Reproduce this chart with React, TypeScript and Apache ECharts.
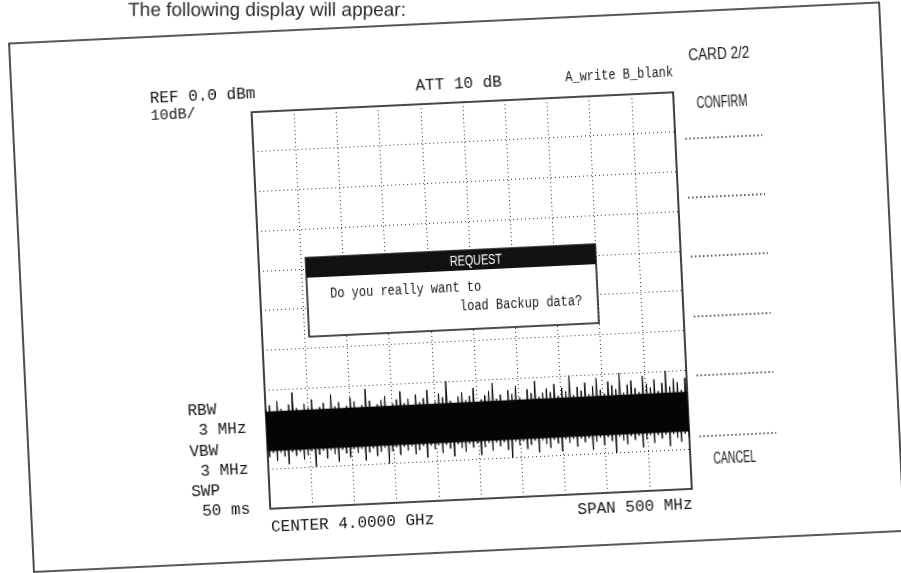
import React, { useEffect, useRef } from "react";
import * as echarts from "echarts";

// ---------- data ----------
const FREQ_START = 3750; // MHz (center 4000, span 500)
const FREQ_END = 4250;
const FREQ_STEP = 50;
const LEVEL_MIN = -100; // dBm
const LEVEL_MAX = 0;
const LEVEL_STEP = 10;

// noise trace: alternating peak / trough readings across the span (dBm)
const peakLevels = [
  -75, -74, -76, -73, -75, -76, -74, -71, -75, -76, -74, -75, -73, -76, -75, -74, -76, -72, -75, -74,
  -76, -75, -73, -74, -76, -75, -71, -74, -76, -75, -74, -73, -76, -75, -74, -72, -75,
  -74, -76, -73, -75, -74, -72, -76, -75, -73, -74, -70, -75, -76, -74, -73, -75, -74, -72, -76,
  -75, -74, -73, -71, -75, -74, -76, -73, -74, -72, -75, -76, -73, -74, -71, -75, -74, -73,
  -74, -72, -75, -73, -74, -70, -75, -73, -74, -72, -75, -73, -71, -74, -75, -72, -73, -74, -70,
  -75, -73, -72, -74, -75, -71, -73, -74, -72, -75, -73, -70, -74, -72, -73, -75, -72,
];
const troughLevels = [
  -87, -86, -88, -86, -87, -89, -86, -87, -86, -88, -87, -86, -90, -87, -86, -88, -86, -87, -89, -86,
  -87, -88, -86, -87, -86, -89, -87, -86, -88, -87, -86, -90, -87, -86, -88, -86, -87,
  -86, -88, -87, -86, -89, -86, -87, -86, -88, -86, -87, -89, -86, -87, -88, -86, -87, -86, -89,
  -87, -86, -88, -86, -87, -86, -88, -90, -86, -87, -86, -88, -87, -86, -89, -86, -87, -88,
  -86, -87, -89, -86, -87, -86, -88, -86, -87, -86, -89, -87, -86, -88, -86, -87, -90, -86, -87,
  -88, -86, -87, -86, -89, -87, -86, -88, -86, -87, -86, -89, -86, -87, -88, -86, -87,
];
const coreBand = [-85.5, -75.5]; // solid dense part of the noise

// ---------- texts ----------
const caption = "The following display will appear:";
const refText = "REF 0.0 dBm";
const scaleText = "10dB/";
const attText = "ATT 10 dB";
const traceModeText = "A_write B_blank";
const cardText = "CARD 2/2";
const softkeyTop = "CONFIRM";
const softkeyBottom = "CANCEL";
const settingLabels = ["RBW", "VBW", "SWP"];
const settingValues = ["3 MHz", "3 MHz", "50 ms"];
const centerText = "CENTER 4.0000 GHz";
const spanText = "SPAN 500 MHz";
const dialogTitle = "REQUEST";
const dialogLines = ["Do you really want to", "load Backup data?"];

// ---------- layout ----------
const P = 30;
const W = 901 + 2 * P;
const H = 573 + 2 * P;
const TILT_DEG = 2.7;
const MONO = "'Liberation Mono', 'DejaVu Sans Mono', monospace";
const SANS = "'Liberation Sans', Arial, sans-serif";
const INK = "#161616";

function txt(x: number, y: number, text: string, o: any = {}) {
  return {
    type: "text",
    x,
    y,
    rotation: o.rot ?? 0,
    scaleX: o.sx ?? 1,
    scaleY: o.sy ?? 1,
    z: o.z ?? 100,
    style: {
      text,
      fill: o.fill ?? INK,
      font: `${o.size ?? 16}px ${o.family ?? MONO}`,
      textAlign: o.align ?? "left",
      textVerticalAlign: o.valign ?? "middle",
    },
  };
}

export default function App() {
  const ref = useRef<HTMLDivElement>(null);

  useEffect(() => {
    document.body.style.margin = "0";
    document.body.style.background = "#ffffff";
    const chart = echarts.init(ref.current as HTMLDivElement, null, {
      renderer: "svg",
      width: W,
      height: H,
    });

    const n = peakLevels.length * 2;
    const span = FREQ_END - FREQ_START;
    const trace: number[][] = [];
    for (let k = 0; k < peakLevels.length; k++) {
      trace.push([FREQ_START + ((2 * k) * span) / (n - 1), peakLevels[k]]);
      trace.push([FREQ_START + ((2 * k + 1) * span) / (n - 1), troughLevels[k]]);
    }

    const softkeyYs = [180, 239, 298, 358, 417, 478];
    const settingYs = [429, 470, 510];

    const graphics: any[] = [
      // outer frame of the picture
      {
        type: "rect",
        z: 1,
        shape: { x: 51, y: 53, width: 871, height: 529 },
        style: { fill: "none", stroke: "#222", lineWidth: 1.6 },
      },
      // page caption (kept level with the page)
      txt(172, 15, caption, {
        family: SANS,
        size: 19,
        fill: "#2a2a2a",
        valign: "top",
        rot: (-TILT_DEG * Math.PI) / 180,
      }),
      txt(189, 115, refText),
      txt(189, 132, scaleText, { size: 15 }),
      txt(455, 115, attText),
      txt(605, 113, traceModeText, { size: 12, sy: 1.25 }),
      txt(729, 96, cardText, { family: SANS, size: 17, sx: 0.8 }),
      txt(735, 144, softkeyTop, { family: SANS, size: 17, sx: 0.64 }),
      txt(735, 500, softkeyBottom, { family: SANS, size: 17, sx: 0.62 }),
      ...softkeyYs.map((y) => ({
        type: "line",
        z: 100,
        shape: { x1: 722, y1: y, x2: 799, y2: y },
        style: { stroke: "#222", lineWidth: 1.5, lineDash: [1.5, 2.5] },
      })),
      ...settingLabels.map((t, i) => txt(212, settingYs[i], t)),
      ...settingValues.map((t, i) => txt(222, settingYs[i] + 20, t)),
      txt(290, 549, centerText),
      txt(712, 546, spanText, { align: "right" }),
      // dialog
      {
        type: "rect",
        z: 100,
        shape: { x: 337, y: 281, width: 290, height: 79 },
        style: { fill: "#ffffff", stroke: "#111", lineWidth: 1.5 },
      },
      {
        type: "rect",
        z: 101,
        shape: { x: 337, y: 281, width: 290, height: 20 },
        style: { fill: "#121212" },
      },
      txt(481, 291, dialogTitle, { family: SANS, size: 15, sx: 0.72, fill: "#ffffff", z: 102 }),
      txt(360, 318, dialogLines[0], { size: 12, sy: 1.25, z: 102 }),
      txt(489, 337, dialogLines[1], { size: 12, sy: 1.25, z: 102 }),
    ];

    const dotted = { color: "#333", type: [1, 3] as any, width: 1 };

    chart.setOption({
      animation: false,
      backgroundColor: "#ffffff",
      grid: {
        left: 290,
        top: 133,
        width: 422,
        height: 397,
        show: true,
        borderColor: "#111",
        borderWidth: 1.6,
        backgroundColor: "transparent",
      },
      xAxis: {
        type: "value",
        min: FREQ_START,
        max: FREQ_END,
        interval: FREQ_STEP,
        axisLine: { show: false },
        axisTick: { show: false },
        axisLabel: { show: false },
        splitLine: { show: true, lineStyle: dotted },
      },
      yAxis: {
        type: "value",
        min: LEVEL_MIN,
        max: LEVEL_MAX,
        interval: LEVEL_STEP,
        axisLine: { show: false },
        axisTick: { show: false },
        axisLabel: { show: false },
        splitLine: { show: true, lineStyle: dotted },
      },
      series: [
        {
          type: "line",
          data: trace,
          symbol: "none",
          silent: true,
          lineStyle: { color: "#050505", width: 1 },
          markArea: {
            silent: true,
            itemStyle: { color: "#050505" },
            data: [[{ yAxis: coreBand[0] }, { yAxis: coreBand[1] }]],
          },
        },
      ],
      graphic: graphics,
    });

    return () => chart.dispose();
  }, []);

  return (
    <div
      ref={ref}
      style={{
        position: "fixed",
        left: -P,
        top: -P,
        width: W,
        height: H,
        transform: `rotate(-${TILT_DEG}deg)`,
        transformOrigin: "50% 50%",
      }}
    />
  );
}
